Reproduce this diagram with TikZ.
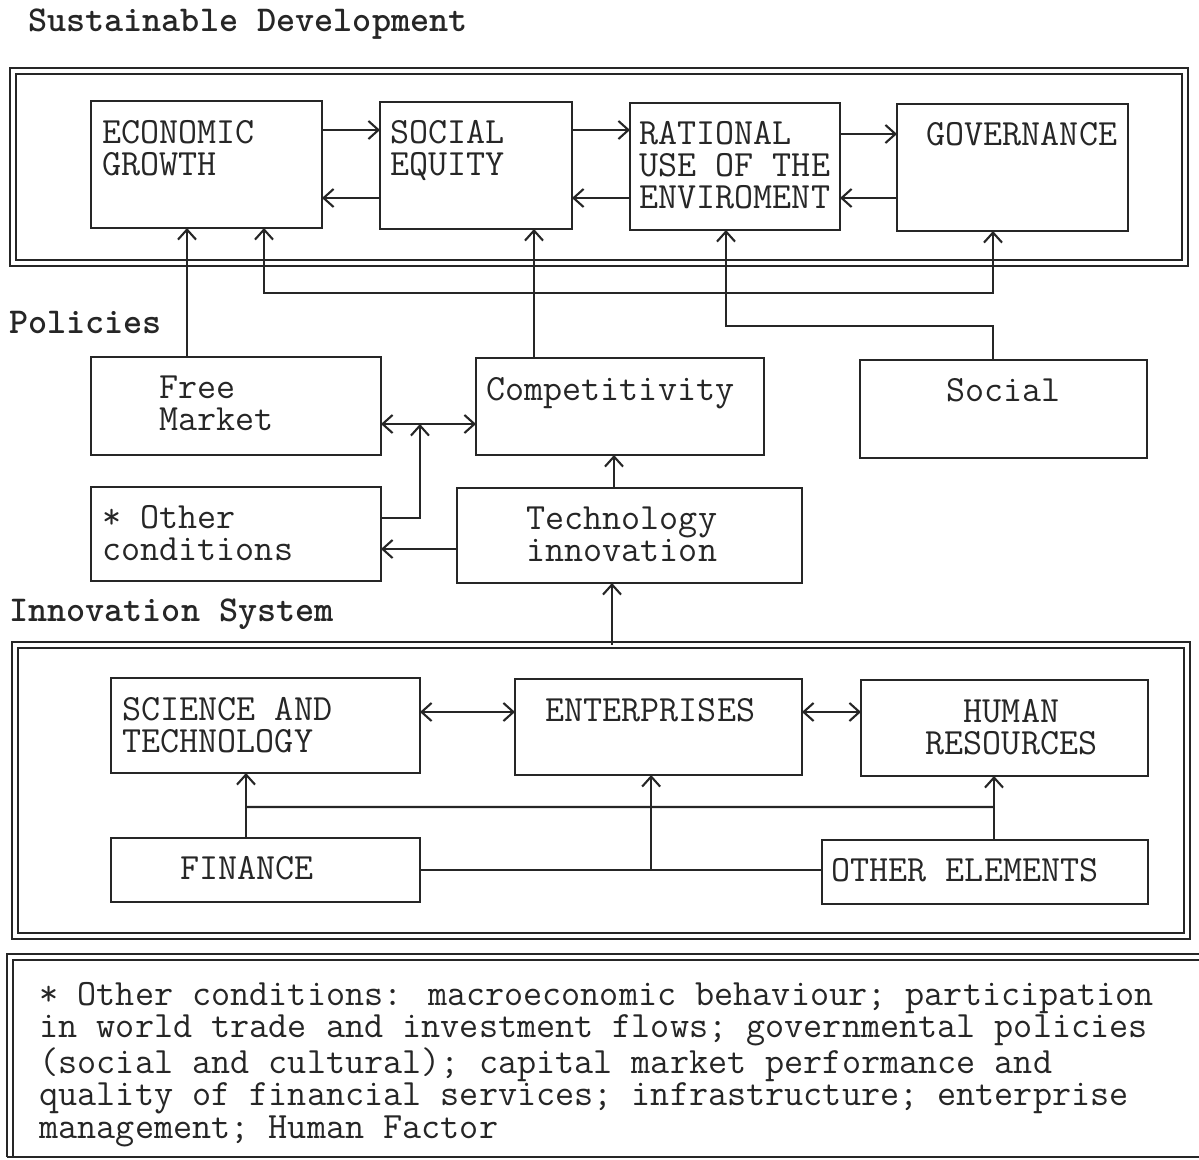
\documentclass[tikz,border=0pt]{standalone}
\usepackage{fontspec}
\usetikzlibrary{positioning}
\usetikzlibrary{arrows.meta}

\begin{document}
\begin{tikzpicture}[x = 1pt, y = -1pt, black!85, line width = 2.1pt,
    blk/.style  = {draw, rectangle, inner sep = 0pt, outer sep = 0pt},
    frm/.style  = {draw, rectangle, double, double distance = 4pt, line width = 2.2pt, inner sep = 0pt, outer sep = 0pt},
    txt/.style  = {anchor = base west, align = left, inner sep = 0pt, xshift = -1.5pt, font = \ttfamily\fontsize{37}{32}\selectfont},
    ttl/.style  = {anchor = base west, inner sep = 0pt, font = \ttfamily\bfseries\fontsize{36.4}{32}\selectfont},
    arr/.style  = {-{Straight Barb[length = 10pt, width = 18pt]}},
    arrb/.style = {{Straight Barb[length = 10pt, width = 18pt]}-{Straight Barb[length = 10pt, width = 18pt]}}]

    \useasboundingbox (0,0) rectangle (1199,1159);

    % titles
    \node (tsd) [ttl] at (27,31)  {Sustainable Development};
    \node (tpo) [ttl] at (8,333)  {Policies};
    \node (tis) [ttl] at (8,621)  {Innovation System};

    % frames
    \node (sdev) [frm, minimum width = 1172pt, minimum height = 192pt] at (599,167) {};
    \node (isys) [frm, minimum width = 1172pt, minimum height = 291pt] at (601,790.5) {};

    % sustainable development
    \node (eg)  [blk, minimum width = 231pt, minimum height = 127pt] at (206.5,164.5) {};
    \node (se)  [blk, minimum width = 192pt, minimum height = 127pt] at (476,165.5) {};
    \node (rat) [blk, minimum width = 210pt, minimum height = 127pt] at (735,166.5) {};
    \node (gov) [blk, minimum width = 231pt, minimum height = 127pt] at (1012.5,167.5) {};

    % (multi-line texts sit on their last baseline)
    \node (egt)  [txt] at (103,175) {ECONOMIC\\GROWTH};
    \node (set)  [txt] at (391,175) {SOCIAL\\EQUITY};
    \node (ratt) [txt] at (640,208) {RATIONAL\\USE OF THE\\ENVIROMENT};
    \node (govt) [txt] at (927,145) {GOVERNANCE};

    % policies
    \node (fm)   [blk, minimum width = 290pt, minimum height = 98pt] at (236,406) {};
    \node (comp) [blk, minimum width = 288pt, minimum height = 97pt] at (620,406.5) {};
    \node (soc)  [blk, minimum width = 287pt, minimum height = 98pt] at (1003.5,409) {};
    \node (oc)   [blk, minimum width = 290pt, minimum height = 94pt] at (236,534) {};
    \node (ti)   [blk, minimum width = 345pt, minimum height = 95pt] at (629.5,535.5) {};

    \node (fmt)   [txt] at (160,430) {Free\\Market};
    \node (compt) [txt] at (487,400) {Competitivity};
    \node (soct)  [txt] at (947,401) {Social};
    \node (oct)   [txt] at (103,560) {* Other\\conditions};
    \node (tit)   [txt] at (527,561) {Technology\\innovation};

    % innovation system
    \node (sci) [blk, minimum width = 309pt, minimum height = 95pt] at (265.5,725.5) {};
    \node (ent) [blk, minimum width = 287pt, minimum height = 96pt] at (658.5,727) {};
    \node (hr)  [blk, minimum width = 287pt, minimum height = 96pt] at (1004.5,728) {};
    \node (fin) [blk, minimum width = 309pt, minimum height = 64pt] at (265.5,870) {};
    \node (oe)  [blk, minimum width = 326pt, minimum height = 64pt] at (985,872) {};

    \node (scit) [txt] at (123,752) {SCIENCE AND\\TECHNOLOGY};
    \node (entt) [txt] at (546,721) {ENTERPRISES};
    \node (hrt)  [txt, align = center, anchor = base, xshift = 0pt] at (1013,754) {HUMAN\\RESOURCES};
    \node (fint) [txt] at (181,879) {FINANCE};
    \node (oet)  [txt] at (832,881) {OTHER ELEMENTS};

    % connectors, top row
    \draw[arr] ([yshift = 34.5pt]eg.east)   -- ([yshift = 34.5pt]eg.east -| se.west);
    \draw[arr] ([yshift = -32.5pt]se.west)  -- ([yshift = -32.5pt]se.west -| eg.east);
    \draw[arr] ([yshift = 35.5pt]se.east)   -- ([yshift = 35.5pt]se.east -| rat.west);
    \draw[arr] ([yshift = -31.5pt]rat.west) -- ([yshift = -31.5pt]rat.west -| se.east);
    \draw[arr] ([yshift = 32.5pt]rat.east)  -- ([yshift = 32.5pt]rat.east -| gov.west);
    \draw[arr] ([yshift = -30.5pt]gov.west) -- ([yshift = -30.5pt]gov.west -| rat.east);

    \draw[arr]  ([xshift = -49pt]fm.north)   -- ([xshift = -49pt]fm.north |- eg.south);
    \draw[arr]  ([xshift = -86pt]comp.north) -- ([xshift = -86pt]comp.north |- se.south);
    \draw[arrb] ([xshift = 57.5pt]eg.south) -- ++(0,65) -| ([xshift = -19.5pt]gov.south);
    \draw[arr]  ([xshift = -10.5pt]soc.north) -- ++(0,-34) -| ([xshift = -9pt]rat.south);

    % connectors, policies
    \draw[arrb] ([yshift = -18pt]fm.east) -- ([yshift = -18pt]fm.east -| comp.west) coordinate[pos = 0.41] (fmj);
    \draw[arr]  ([yshift = 16pt]oc.east) -| (fmj);
    \draw[arr]  ([yshift = -13.5pt]ti.west) -- ([yshift = -13.5pt]ti.west -| oc.east);
    \draw[arr]  ([xshift = -15.5pt]ti.north) -- ([xshift = -15.5pt]ti.north |- comp.south);
    \draw[arr]  ([xshift = 11pt]isys.north) -- ([xshift = 11pt]isys.north |- ti.south);

    % connectors, innovation system
    \draw[arrb] ([yshift = 13.5pt]sci.east) -- ([yshift = 13.5pt]sci.east -| ent.west);
    \draw[arrb] ([yshift = 15pt]ent.east)   -- ([yshift = 15pt]ent.east -| hr.west);
    \draw[arr]  ([xshift = -19.5pt]fin.north) -- ([xshift = -19.5pt]fin.north |- sci.south) coordinate[pos = 0.477] (fs);
    \draw[arr]  ([xshift = 9pt]oe.north) -- ([xshift = 9pt]oe.north |- hr.south) coordinate[pos = 0.516] (oh);
    \draw (fs) -- (oh);
    \draw (fin.east) -- (fin.east -| oe.west) coordinate[pos = 0.575] (fo);
    \draw[arr] (fo) -- (fo |- ent.south);

    % footnote
    \draw[line width = 2.2pt] (7,1157) -- (7,954) -- (1199,954);
    \draw[line width = 2.2pt] (13,1157) -- (13,960) -- (1199,960);
    \draw[line width = 2.2pt] (7,1157) -- (1199,1157);
    \node (note) [txt, font = \ttfamily\fontsize{37.1}{32.5}\selectfont] at (40,1138)
        {* Other conditions: macroeconomic behaviour; participation\\in world trade and investment flows; governmental policies\\(social and cultural); capital market performance and\\quality of financial services; infrastructure; enterprise\\management; Human Factor};

\end{tikzpicture}
\end{document}
